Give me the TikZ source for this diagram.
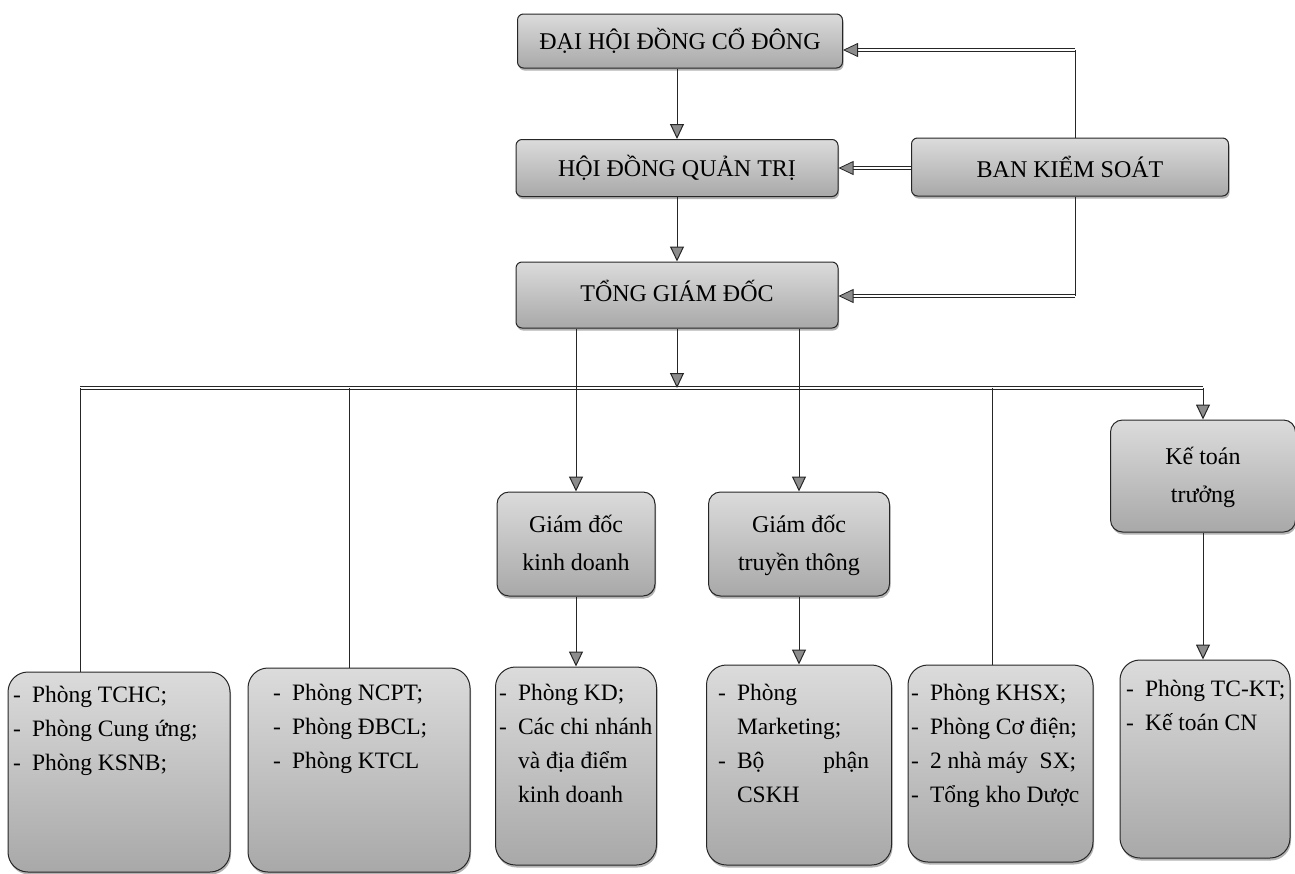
\documentclass[tikz,border=0pt]{standalone}
\usepackage{fontspec}
\setmainfont{Liberation Serif}
\usetikzlibrary{arrows.meta,shadows}
\tikzset{
  box/.style={draw=black!85, line width=1pt, rounded corners=6pt,
    top color=black!14, bottom color=black!34,
    drop shadow={shadow xshift=1pt,shadow yshift=-2.5pt,opacity=.6},
    inner sep=0pt, align=center, font=\fontsize{24}{38}\selectfont},
  bigbox/.style={box, rounded corners=20pt},
  tip/.style={-{Triangle[width=14pt,length=15pt,fill=black!45]}},
  conn/.style={draw=black!85, line width=1pt},
  dbl/.style={draw=black!85, line width=0.8pt, double=white, double distance=2.2pt},
  txt/.style={font=\fontsize{23.5}{34}\selectfont, inner sep=0pt, anchor=north west, align=left},
}
\begin{document}
\begin{tikzpicture}[x=1pt,y=-1pt]
\useasboundingbox (0,0) rectangle (1295,873);
% top level boxes
\node[box, minimum width=325pt, minimum height=54pt] (dh) at (680,41) {ĐẠI HỘI ĐỒNG CỔ ĐÔNG};
\node[box, minimum width=322pt, minimum height=57pt] (hd) at (677,168) {HỘI ĐỒNG QUẢN TRỊ};
\node[box, minimum width=317pt, minimum height=58pt] (bk) at (1070,167) {BAN KIỂM SOÁT};
\node[box, minimum width=322pt, minimum height=66pt] (tg) at (677,295) {\raisebox{9pt}{TỔNG GIÁM ĐỐC}};
% second level
\node[bigbox, rounded corners=12pt, minimum width=158pt, minimum height=104pt] (kd) at (576,544) {\raisebox{3pt}{\begin{tabular}{c}Giám đốc\\kinh doanh\end{tabular}}};
\node[bigbox, rounded corners=12pt, minimum width=181pt, minimum height=104pt] (tt) at (799,544) {\raisebox{3pt}{\begin{tabular}{c}Giám đốc\\truyền thông\end{tabular}}};
\node[bigbox, rounded corners=12pt, minimum width=185pt, minimum height=112pt] (kt) at (1203,476) {\raisebox{11pt}{\begin{tabular}{c}Kế toán\\trưởng\end{tabular}}};
% bottom boxes
\node[bigbox, minimum width=222pt, minimum height=200pt] (b1) at (119,772) {};
\node[bigbox, minimum width=222pt, minimum height=204pt] (b2) at (359,770) {};
\node[bigbox, minimum width=161pt, minimum height=198pt] (b3) at (576,766) {};
\node[bigbox, minimum width=185pt, minimum height=200pt] (b4) at (799,765) {};
\node[bigbox, minimum width=185pt, minimum height=197pt] (b5) at (1000.5,763.5) {};
\node[bigbox, minimum width=170pt, minimum height=198pt] (b6) at (1205,759) {};
% texts of bottom boxes
\node[txt] (t1) at (13,678) {\begin{tabular}{@{}l@{\hspace{11pt}}l@{}}-&Phòng TCHC;\\-&Phòng Cung ứng;\\-&Phòng KSNB;\end{tabular}};
\node[txt] (t2) at (273,676) {\begin{tabular}{@{}l@{\hspace{11pt}}l@{}}-&Phòng NCPT;\\-&Phòng ĐBCL;\\-&Phòng KTCL\end{tabular}};
\node[txt] (t3) at (499,676) {\begin{tabular}{@{}l@{\hspace{11pt}}l@{}}-&Phòng KD;\\-&Các chi nhánh\\&và địa điểm\\&kinh doanh\end{tabular}};
\node[txt] (t4) at (718,676) {\begin{tabular}{@{}l@{\hspace{11pt}}l@{}}-&Phòng\\&Marketing;\\-&\makebox[132pt][s]{Bộ\hfill phận}\\&CSKH\end{tabular}};
\node[txt] (t5) at (911,676) {\begin{tabular}{@{}l@{\hspace{11pt}}l@{}}-&Phòng KHSX;\\-&Phòng Cơ điện;\\-&2 nhà máy\ \ SX;\\-&Tổng kho Dược\end{tabular}};
\node[txt] (t6) at (1126,672) {\begin{tabular}{@{}l@{\hspace{11pt}}l@{}}-&Phòng TC-KT;\\-&Kế toán CN\end{tabular}};
% helper coordinates
\coordinate (bkU) at (1075,50);
\coordinate (bkD) at (1075,296);
\coordinate (busL) at (80,388);
\coordinate (busR) at (1203,388);
\coordinate (bus2) at (349,388);
\coordinate (bus3) at (992,388);
% connectors
\draw[conn, tip] (dh.south -| hd.north) -- (hd.north);
\draw[conn, tip] (hd.south) -- (tg.north);
\draw[dbl, tip] (bk.west |- hd.east) -- (hd.east);
\draw[conn] (bk.north -| bkU) -- (bkU);
\draw[dbl, tip] (bkU) -- (bkU -| dh.east);
\draw[conn] (bk.south -| bkD) -- (bkD);
\draw[dbl, tip] (bkD) -- (bkD -| tg.east);
% bus
\draw[dbl] (busL) -- (busR);
\draw[conn, tip] (tg.south) -- (tg.south |- busL);
\draw[conn] (busL) -- (busL |- b1.north);
\draw[conn] (bus2) -- (bus2 |- b2.north);
\draw[conn] (bus3) -- (bus3 |- b5.north);
\draw[conn, tip] (busR) -- (kt.north);
\draw[conn, tip] (tg.south -| kd.north) -- (kd.north);
\draw[conn, tip] (tg.south -| tt.north) -- (tt.north);
% second level to bottom
\draw[conn, tip] (kd.south) -- (b3.north);
\draw[conn, tip] (tt.south) -- (b4.north);
\draw[conn, tip] (kt.south) -- (b6.north -| kt.south);
\end{tikzpicture}
\end{document}
